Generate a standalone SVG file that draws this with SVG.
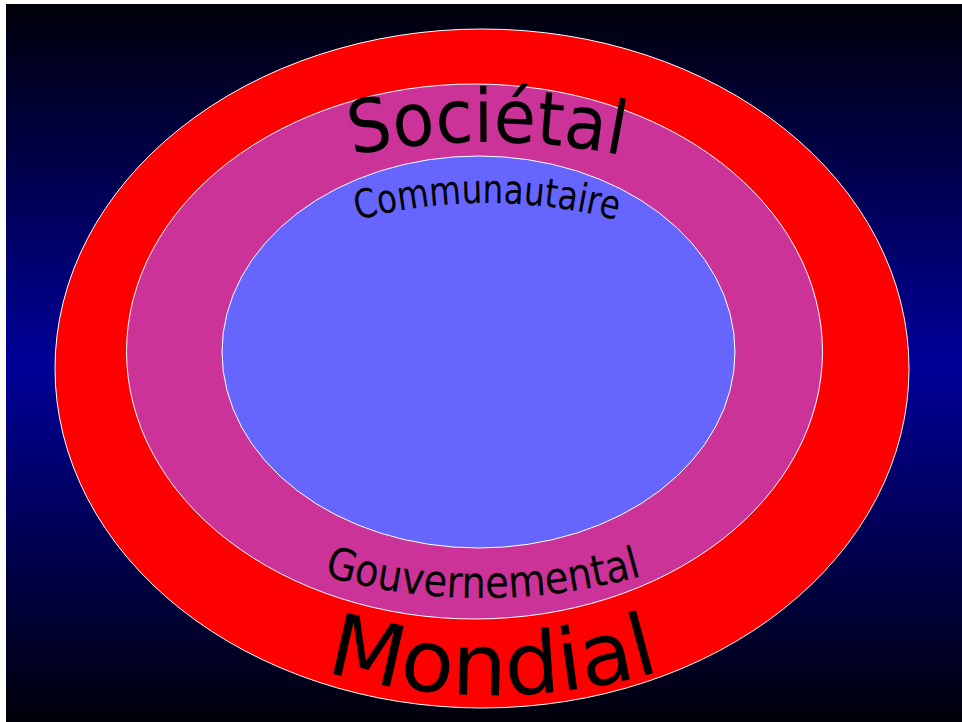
<svg xmlns="http://www.w3.org/2000/svg" width="962" height="722" viewBox="0 0 962 722">
<defs>
<linearGradient id="bg" x1="0" y1="0" x2="0" y2="1">
<stop offset="0" stop-color="#00000a"/>
<stop offset="0.5" stop-color="#000099"/>
<stop offset="1" stop-color="#00000a"/>
</linearGradient>
<path id="pSoc" d="M 187 209.5 A 700 700 0 0 1 787 209.5"/>
<path id="pCom" d="M 187 303 A 500 500 0 0 1 787 303"/>
<path id="pGov" d="M 183 514.4 A 580 580 0 0 0 783 514.4"/>
<path id="pMon" d="M 193 614.6 A 600 600 0 0 0 793 614.6"/>
</defs>
<style>
.ring{stroke:#ffffff;stroke-width:1}
.lbl{font-family:"Comic Sans MS","DejaVu Sans",sans-serif;fill:#000000;text-anchor:middle}
</style>
<rect x="0" y="0" width="962" height="722" fill="#ffffff"/>
<rect x="6" y="4" width="956" height="718" fill="url(#bg)"/>
<g id="mondial">
<ellipse class="ring" cx="482" cy="368.5" rx="427" ry="339.5" fill="#ff0000"/>
</g>
<g id="societal">
<ellipse class="ring" cx="474.5" cy="351.5" rx="348" ry="267.5" fill="#cc3399"/>
</g>
<g id="communautaire">
<ellipse class="ring" cx="478.5" cy="352" rx="256.5" ry="196" fill="#6666ff"/>
</g>
<g id="labels">
<text class="lbl" font-size="74"><textPath href="#pSoc" startOffset="50%" textLength="272" lengthAdjust="spacingAndGlyphs">Sociétal</textPath></text>
<text class="lbl" font-size="40"><textPath href="#pCom" startOffset="50%" textLength="262" lengthAdjust="spacingAndGlyphs">Communautaire</textPath></text>
<text class="lbl" font-size="44"><textPath href="#pGov" startOffset="50%" textLength="322" lengthAdjust="spacingAndGlyphs">Gouvernemental</textPath></text>
<text class="lbl" font-size="86"><textPath href="#pMon" startOffset="50%" textLength="340" lengthAdjust="spacingAndGlyphs">Mondial</textPath></text>
</g>
</svg>
